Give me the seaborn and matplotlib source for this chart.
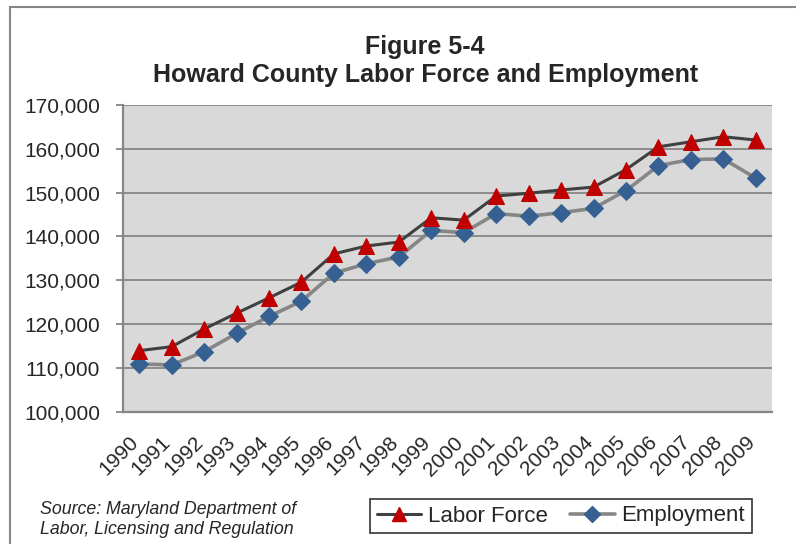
import matplotlib
matplotlib.use("Agg")
import matplotlib.pyplot as plt
from matplotlib.lines import Line2D
import seaborn as sns
import pandas as pd

years = ["1990", "1991", "1992", "1993", "1994", "1995", "1996", "1997", "1998", "1999",
         "2000", "2001", "2002", "2003", "2004", "2005", "2006", "2007", "2008", "2009"]
labor_force = [113900, 114800, 118850, 122450, 125950, 129550, 136000, 137800, 138700, 144250,
               143700, 149200, 149850, 150600, 151250, 155250, 160450, 161600, 162750, 162000]
employment = [110850, 110650, 113650, 117850, 121700, 125200, 131600, 133750, 135300, 141350,
              140850, 145200, 144600, 145400, 146400, 150450, 156150, 157550, 157700, 153300]
y_ticks = [100000, 110000, 120000, 130000, 140000, 150000, 160000, 170000]
title_lines = ["Figure 5-4", "Howard County Labor Force and Employment"]
source_lines = ["Source: Maryland Department of", "Labor, Licensing and Regulation"]

sns.set_theme(style="white")
plt.rcParams["font.family"] = ["Liberation Sans", "DejaVu Sans"]

df = pd.DataFrame({"idx": list(range(len(years))), "year": years,
                   "Labor Force": labor_force, "Employment": employment})

fig = plt.figure(figsize=(7.96, 5.44), dpi=100)
ax = fig.add_axes([123 / 796, 1 - 411.5 / 544, (772 - 123) / 796, (411.5 - 105) / 544])
ax.set_facecolor("#D9D9D9")

lf_color, emp_color = "#404040", "#868686"
red, blue = "#C00000", "#366092"

sns.lineplot(data=df, x="idx", y="Employment", ax=ax, color=emp_color, linewidth=2.6,
             marker="D", markersize=9.5, markerfacecolor=blue, markeredgecolor=blue, zorder=3)
sns.lineplot(data=df, x="idx", y="Labor Force", ax=ax, color=lf_color, linewidth=2.2,
             marker="^", markersize=11.5, markerfacecolor=red, markeredgecolor=red, zorder=4)

n = len(years)
ax.set_xlim(-0.5, n - 0.5)
ax.set_ylim(y_ticks[0], y_ticks[-1])
ax.set_yticks(y_ticks)
ax.set_yticklabels([f"{v:,}" for v in y_ticks])
ax.set_xticks([i - 0.5 for i in range(n + 1)])
ax.set_xticklabels([])
ax.set_xticks(list(range(n)), minor=True)
ax.set_xticklabels(years, minor=True, rotation=45, ha="right", va="baseline",
                   rotation_mode="anchor", fontsize=15)
ax.tick_params(axis="x", which="minor", length=0, pad=23)
ax.tick_params(axis="x", which="major", direction="inout", length=9, width=1.3, color="#868686")
ax.tick_params(axis="y", direction="out", length=5, width=1.3, color="#868686",
               labelsize=15, pad=11.5, left=True)
ax.set_xlabel("")
ax.set_ylabel("")
ax.grid(axis="y", color="#868686", linewidth=1.3)
ax.set_axisbelow(True)
for side in ["top", "right"]:
    ax.spines[side].set_visible(False)
for side in ["left", "bottom"]:
    ax.spines[side].set_color("#868686")
    ax.spines[side].set_linewidth(1.6)

fig.text(0.534, 1 - 47 / 544, title_lines[0], ha="center", va="center",
         fontsize=18, fontweight="bold")
fig.text(0.534, 1 - 75 / 544, title_lines[1], ha="center", va="center",
         fontsize=18, fontweight="bold")

fig.text(40 / 796, 1 - 509 / 544, source_lines[0], ha="left", va="center",
         fontsize=12.8, style="italic")
fig.text(40 / 796, 1 - 529 / 544, source_lines[1], ha="left", va="center",
         fontsize=12.8, style="italic")

handles = [Line2D([], [], color=lf_color, linewidth=2.2, marker="^", markersize=10,
                  markerfacecolor=red, markeredgecolor=red),
           Line2D([], [], color=emp_color, linewidth=2.6, marker="D", markersize=8,
                  markerfacecolor=blue, markeredgecolor=blue)]
leg = fig.legend(handles, ["Labor Force", "Employment"], loc="center",
                 bbox_to_anchor=(561 / 796, 1 - 516 / 544), ncol=2, fontsize=16,
                 frameon=True, fancybox=False, edgecolor="black", handlelength=2.0,
                 handletextpad=0.3, columnspacing=1.0, borderpad=0.3)
leg.get_frame().set_linewidth(1.2)

fig.add_artist(Line2D([10 / 796, 10 / 796], [0, 1 - 7 / 544], color="#868686", linewidth=1.5))
fig.add_artist(Line2D([10 / 796, 1], [1 - 7 / 544, 1 - 7 / 544], color="#868686", linewidth=1.5))

fig.savefig("out.png", dpi=100, facecolor="white")
